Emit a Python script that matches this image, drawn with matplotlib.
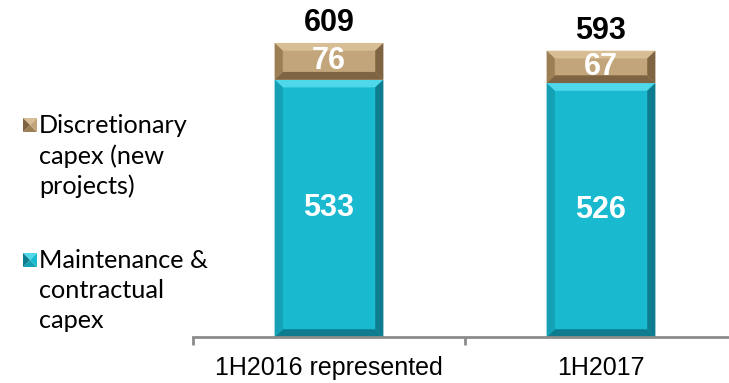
import numpy as np
import matplotlib.pyplot as plt
from matplotlib.patches import Polygon, Rectangle

categories = ['1H2016 represented', '1H2017']
maintenance = [533, 526]
discretionary = [76, 67]
totals = [609, 593]
legend_labels = ['Discretionary\ncapex (new\nprojects)', 'Maintenance &\ncontractual\ncapex']

teal = {'face': '#19B9D0', 'light': '#4ED8EA', 'dark': '#0E7C8E', 'side': '#15A0B5'}
tan = {'face': '#C2A57B', 'light': '#D8BE94', 'dark': '#7E6442', 'side': '#9C7F55'}

W, H = 729, 383
fig = plt.figure(figsize=(W / 100, H / 100), dpi=100)
ax = fig.add_axes([193 / W, 46 / H, 544 / W, 337 / H])
ax.set_xlim(-0.5, 1.5)
ax.set_ylim(0, 698)

bar_w = 0.4
bx, by = 0.03, 16  # bevel size in data units


def bevel_bar(x, bottom, height, c):
    ax.add_patch(Rectangle((x - bar_w / 2, bottom), bar_w, height, color=c['face'], lw=0))
    x0, x1 = x - bar_w / 2, x + bar_w / 2
    y0, y1 = bottom, bottom + height
    b = min(by, height / 3)
    pieces = [
        ([(x0, y1), (x1, y1), (x1 - bx, y1 - b), (x0 + bx, y1 - b)], c['light']),
        ([(x0, y0), (x1, y0), (x1 - bx, y0 + b), (x0 + bx, y0 + b)], c['dark']),
        ([(x0, y0), (x0, y1), (x0 + bx, y1 - b), (x0 + bx, y0 + b)], c['side']),
        ([(x1, y0), (x1, y1), (x1 - bx, y1 - b), (x1 - bx, y0 + b)], c['dark']),
    ]
    for pts, col in pieces:
        ax.add_patch(Polygon(pts, closed=True, color=col, lw=0))


num_font = dict(family='Liberation Sans', fontsize=22, fontweight='bold')
for i in range(len(categories)):
    bevel_bar(i, 0, maintenance[i], teal)
    bevel_bar(i, maintenance[i], discretionary[i], tan)
    ax.text(i, maintenance[i] / 2, str(maintenance[i]), color='white', ha='center', va='center', **num_font)
    ax.text(i, maintenance[i] + discretionary[i] / 2, str(discretionary[i]), color='white',
            ha='center', va='center', **num_font)
    ax.text(i, totals[i] + 10, str(totals[i]), color='black', ha='center', va='bottom', **num_font)

for s in ['top', 'right', 'left']:
    ax.spines[s].set_visible(False)
ax.spines['bottom'].set_color('#8C8C8C')
ax.spines['bottom'].set_linewidth(2)
ax.set_yticks([])
ax.set_xticks([-0.5, 0.5, 1.5])
ax.set_xticklabels([])
ax.tick_params(axis='x', length=6, width=2, color='#8C8C8C', direction='out')
for i, lab in enumerate(categories):
    ax.annotate(lab, (i, 0), xycoords='data', xytext=(0, -22), textcoords='offset points',
                ha='center', va='center', fontsize=18, family='Liberation Sans')

# legend drawn by hand
leg_y = [125, 260]
leg_cols = [tan, teal]
for yy, lab, c in zip(leg_y, legend_labels, leg_cols):
    ty = 1 - yy / H
    sq = fig.add_axes([23 / W, ty - 7 / H, 14 / W, 14 / H])
    sq.set_xlim(0, 1)
    sq.set_ylim(0, 1)
    sq.axis('off')
    sq.add_patch(Polygon([(0, 1), (1, 1), (0.5, 0.5)], color=c['light'], lw=0))
    sq.add_patch(Polygon([(0, 0), (1, 0), (0.5, 0.5)], color=c['side'], lw=0))
    sq.add_patch(Polygon([(0, 0), (0, 1), (0.5, 0.5)], color=c['dark'], lw=0))
    sq.add_patch(Polygon([(1, 0), (1, 1), (0.5, 0.5)], color=c['face'], lw=0))
    fig.text(39 / W, ty + 11 / H, lab, ha='left', va='top', fontsize=18.2, family='Lato',
             linespacing=1.36)

fig.savefig('out.png', dpi=100)
